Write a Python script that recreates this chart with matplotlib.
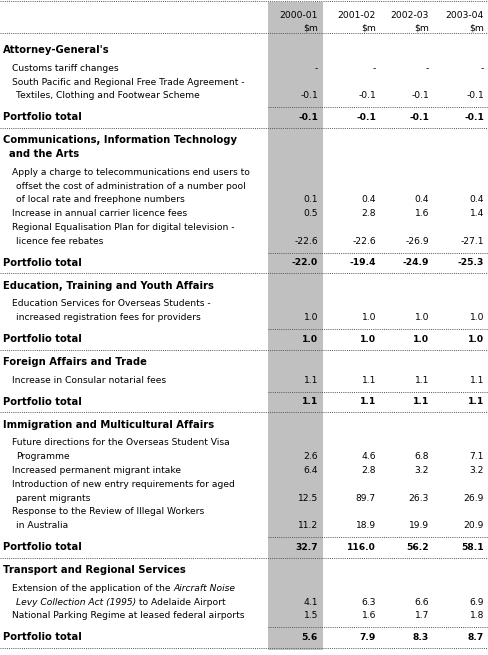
import matplotlib
matplotlib.use("Agg")
import matplotlib.pyplot as plt
from matplotlib.patches import Rectangle

years = ["2000-01", "2001-02", "2002-03", "2003-04"]
unit = "$m"

portfolios = [
    ["Attorney-General's"],
    ["Communications, Information Technology", "and the Arts"],
    ["Education, Training and Youth Affairs"],
    ["Foreign Affairs and Trade"],
    ["Immigration and Multicultural Affairs"],
    ["Transport and Regional Services"],
]
items = [
    [["Customs tariff changes"],
     ["South Pacific and Regional Free Trade Agreement -", "Textiles, Clothing and Footwear Scheme"]],
    [["Apply a charge to telecommunications end users to", "offset the cost of administration of a number pool", "of local rate and freephone numbers"],
     ["Increase in annual carrier licence fees"],
     ["Regional Equalisation Plan for digital television -", "licence fee rebates"]],
    [["Education Services for Overseas Students -", "increased registration fees for providers"]],
    [["Increase in Consular notarial fees"]],
    [["Future directions for the Overseas Student Visa", "Programme"],
     ["Increased permanent migrant intake"],
     ["Introduction of new entry requirements for aged", "parent migrants"],
     ["Response to the Review of Illegal Workers", "in Australia"]],
    [["Extension of the application of the |Aircraft Noise", "|Levy Collection Act (1995)| to Adelaide Airport"],
     ["National Parking Regime at leased federal airports"]],
]
values = [
    [["-", "-", "-", "-"], ["-0.1", "-0.1", "-0.1", "-0.1"]],
    [["0.1", "0.4", "0.4", "0.4"], ["0.5", "2.8", "1.6", "1.4"], ["-22.6", "-22.6", "-26.9", "-27.1"]],
    [["1.0", "1.0", "1.0", "1.0"]],
    [["1.1", "1.1", "1.1", "1.1"]],
    [["2.6", "4.6", "6.8", "7.1"], ["6.4", "2.8", "3.2", "3.2"], ["12.5", "89.7", "26.3", "26.9"], ["11.2", "18.9", "19.9", "20.9"]],
    [["4.1", "6.3", "6.6", "6.9"], ["1.5", "1.6", "1.7", "1.8"]],
]
totals = [
    ["-0.1", "-0.1", "-0.1", "-0.1"],
    ["-22.0", "-19.4", "-24.9", "-25.3"],
    ["1.0", "1.0", "1.0", "1.0"],
    ["1.1", "1.1", "1.1", "1.1"],
    ["32.7", "116.0", "56.2", "58.1"],
    ["5.6", "7.9", "8.3", "8.7"],
]

W, H = 488, 655
fig = plt.figure(figsize=(W / 100, H / 100), dpi=100)
ax = fig.add_axes([0, 0, 1, 1])
ax.set_xlim(0, W)
ax.set_ylim(H, 0)
ax.axis("off")

FS = 6.6
FAM = "DejaVu Sans"
colx = [318, 376, 429, 484]
step = 13.8

ax.add_patch(Rectangle((268, 2), 55, 648, color="#c0c0c0", lw=0, zorder=0))

def hline(y, x0=0):
    ax.plot([x0, W], [y, y], color="#555555", lw=0.7, ls=(0, (1, 1.2)), zorder=2)

renderer = fig.canvas.get_renderer()

def rich(x, y, s):
    parts = s.split("|")
    italic = False
    for p in parts:
        if p:
            t = ax.text(x, y, p, fontsize=FS, family=FAM, va="center", ha="left",
                        style="italic" if italic else "normal")
            bb = t.get_window_extent(renderer)
            x = x + bb.width
        italic = not italic

def vals(y, row, bold=False):
    for cx, v in zip(colx, row):
        ax.text(cx, y, v, fontsize=FS, family=FAM, va="center", ha="right",
                fontweight="bold" if bold else "normal")

hline(1)
for cx, yr in zip(colx, years):
    ax.text(cx, 15, yr, fontsize=FS, family=FAM, va="center", ha="right")
    ax.text(cx, 28, unit, fontsize=FS, family=FAM, va="center", ha="right")
hline(33)

y = 33
for k, (p, its, vs, tot) in enumerate(zip(portfolios, items, values, totals)):
    y += 17 if k == 0 else 12.5
    for i, line in enumerate(p):
        ax.text(3 if i == 0 else 9, y, line, fontsize=7.2, family=FAM,
                fontweight="bold", va="center", ha="left")
        y += step
    y += 4.5 - step
    for lines, v in zip(its, vs):
        y += step
        for j, line in enumerate(lines):
            if j > 0:
                y += step
            rich(12 if j == 0 else 16, y, line)
        vals(y, v)
    y += 11.5
    hline(y, 268)
    y += 10
    ax.text(3, y, "Portfolio total", fontsize=7.2, family=FAM, fontweight="bold",
            va="center", ha="left")
    vals(y, tot, bold=True)
    y += 10.3
    hline(y)

fig.savefig("out.png", dpi=100)
